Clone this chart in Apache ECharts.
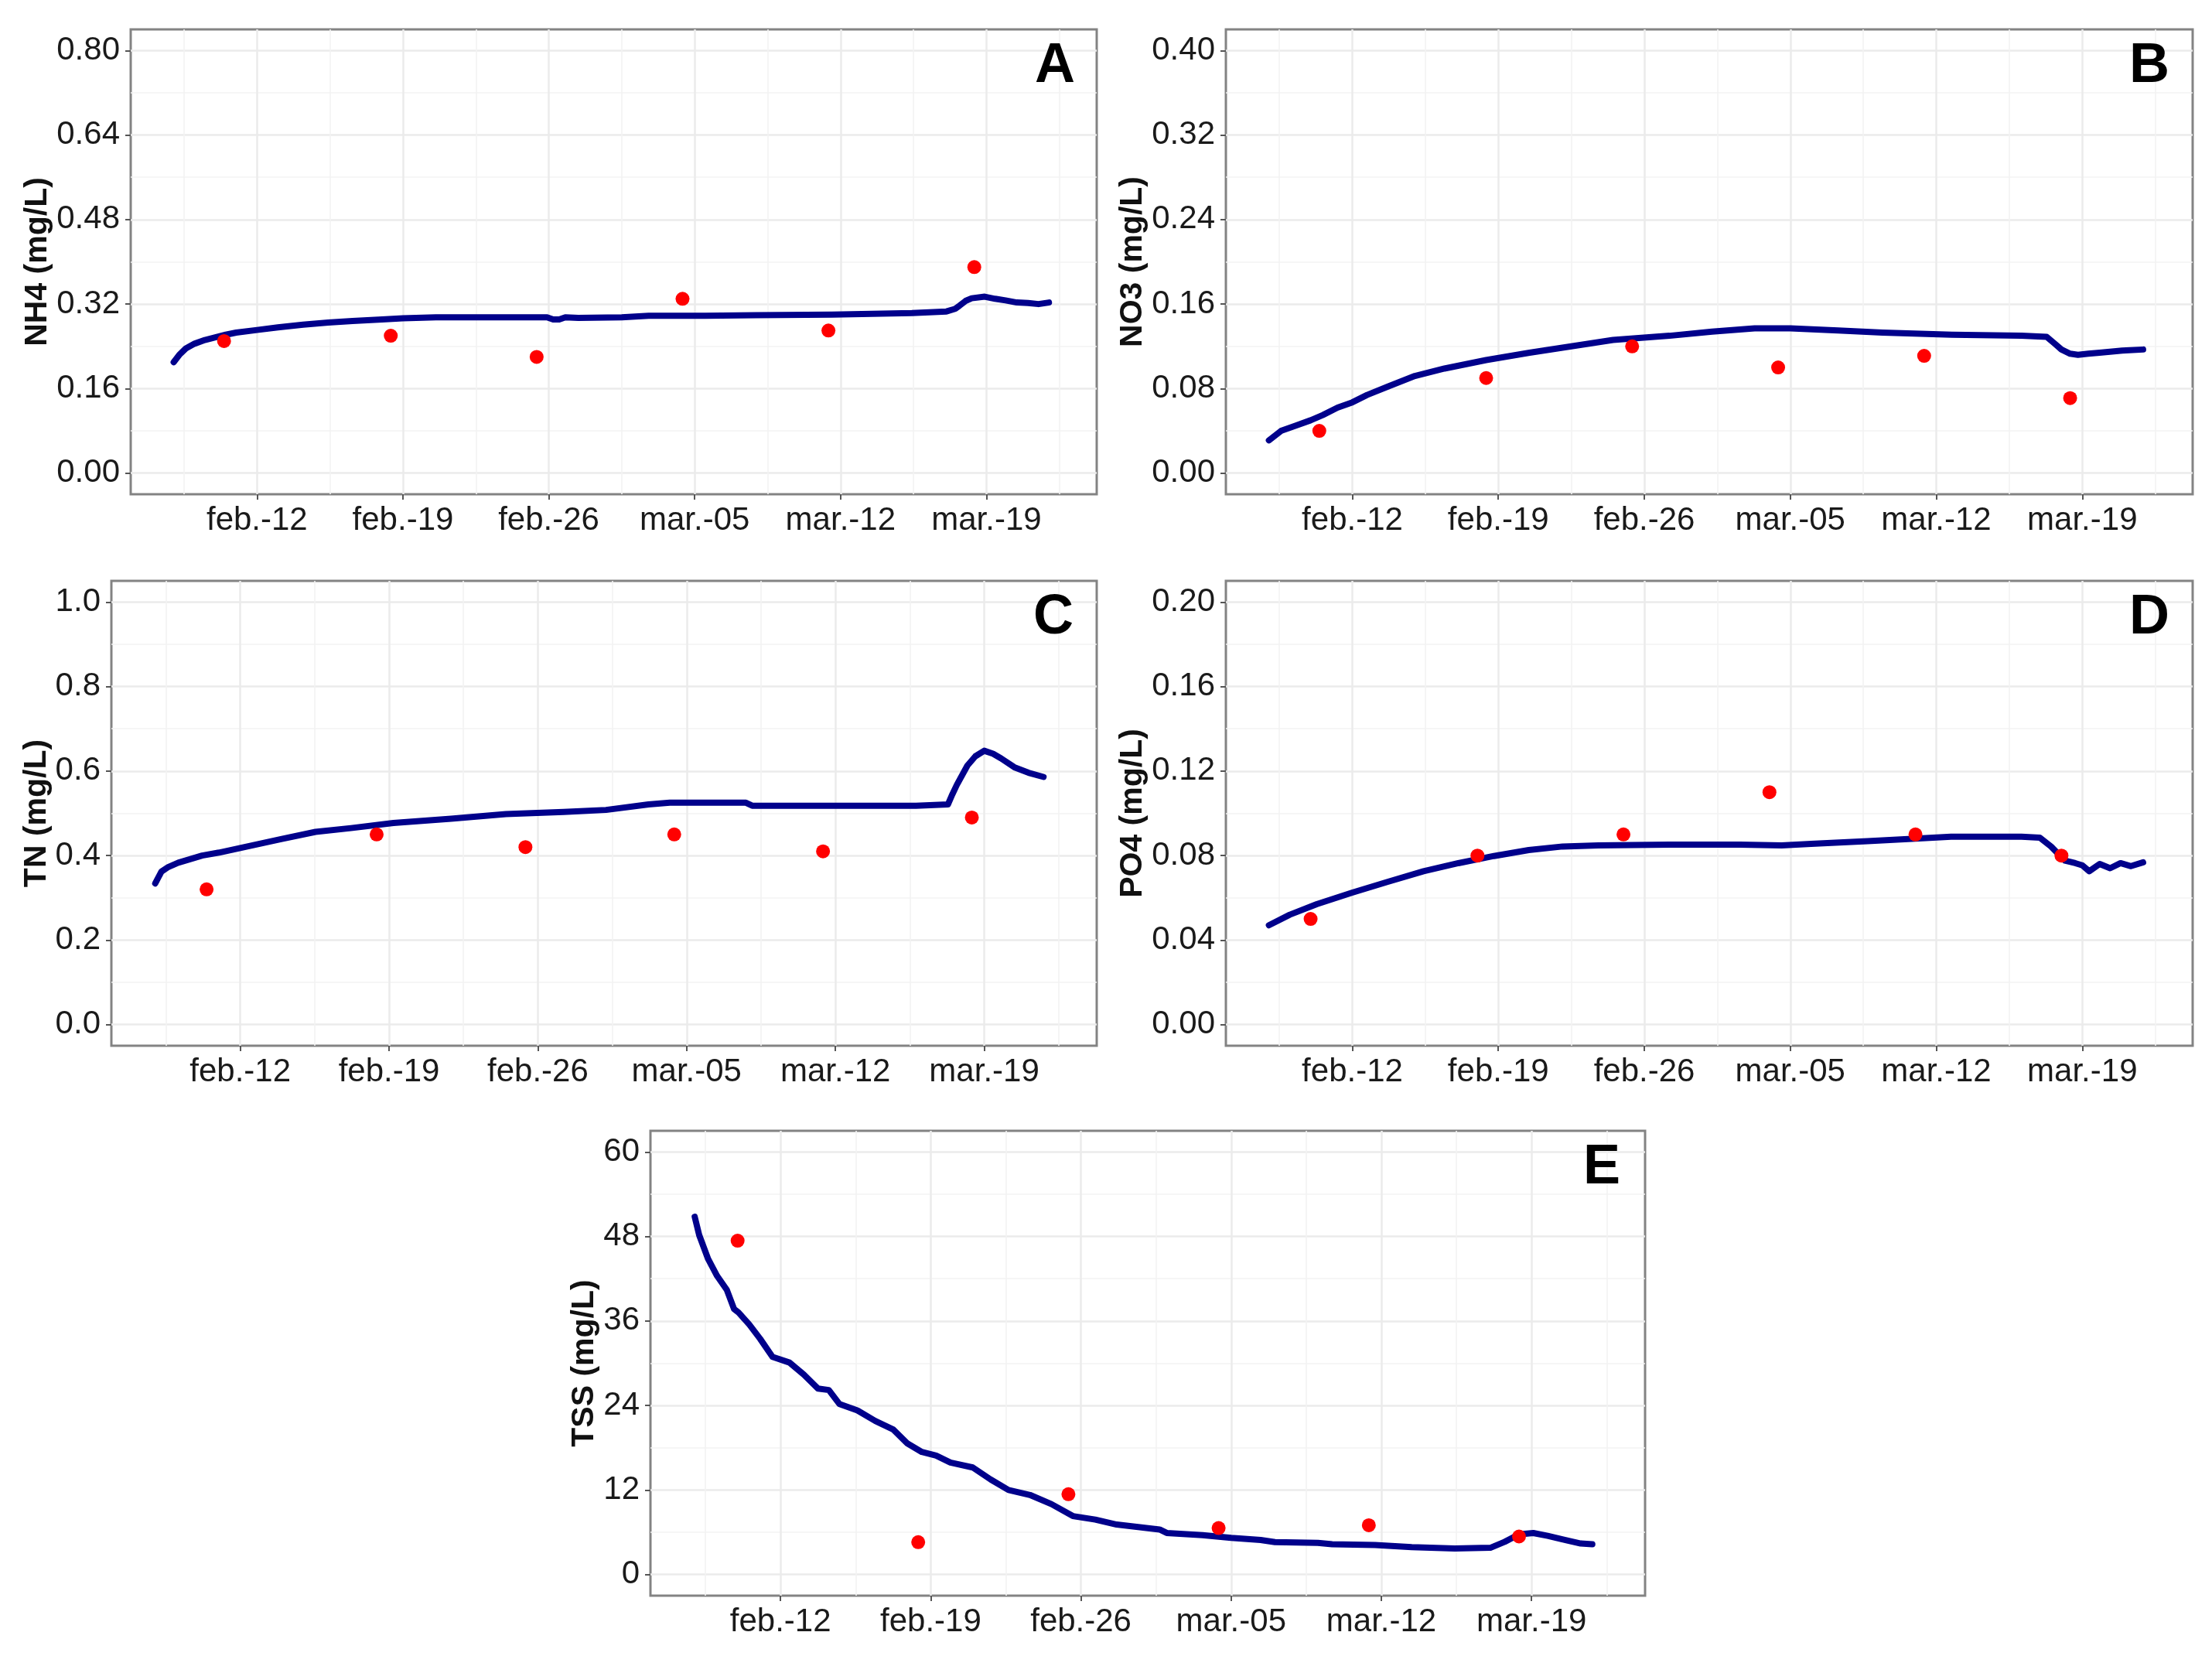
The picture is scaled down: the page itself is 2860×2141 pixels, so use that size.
<!DOCTYPE html>
<html><head><meta charset="utf-8">
<script src="https://cdn.jsdelivr.net/npm/echarts@6/dist/echarts.min.js"></script>
<style>html,body{margin:0;padding:0;background:#fff}#c{width:2860px;height:2141px}</style>
</head><body><div id="c"></div>
<script>
// ---------- x axis (dates) ----------
const xTickDates = ['2019-02-12T00:00','2019-02-19T00:00','2019-02-26T00:00','2019-03-05T00:00','2019-03-12T00:00','2019-03-19T00:00'];
const xTickLabels = ['feb.-12','feb.-19','feb.-26','mar.-05','mar.-12','mar.-19'];
const xMinorDates = ['2019-02-08T12:00','2019-02-15T12:00','2019-02-22T12:00','2019-03-01T12:00','2019-03-08T12:00','2019-03-15T12:00','2019-03-22T12:00'];
const xRangeDates = ['2019-02-05T22:30','2019-03-24T07:00'];

// ---------- sample dates (red points) ----------
const sampleDates = ['2019-02-10T10:00','2019-02-18T10:00','2019-02-25T10:00','2019-03-04T10:00','2019-03-11T10:00','2019-03-18T10:00'];
const sampleDatesPO4 = ['2019-02-10T00:00','2019-02-18T00:00','2019-02-25T00:00','2019-03-04T00:00','2019-03-11T00:00','2019-03-18T00:00'];
const sampleDatesTSS = ['2019-02-10T00:00','2019-02-18T10:00','2019-02-25T10:00','2019-03-04T10:00','2019-03-11T10:00','2019-03-18T10:00'];

// ---------- A: NH4 ----------
const nh4Ticks = [0, 0.16, 0.32, 0.48, 0.64, 0.80];
const nh4Range = [-0.04, 0.84];
const nh4Obs = [0.25, 0.26, 0.22, 0.33, 0.27, 0.39];
const nh4Line = [
['2019-02-08T00:00',0.210],['2019-02-08T07:00',0.225],['2019-02-08T14:00',0.236],['2019-02-09T00:00',0.245],
['2019-02-09T12:00',0.252],['2019-02-10T00:00',0.257],['2019-02-10T12:00',0.262],['2019-02-11T00:00',0.266],
['2019-02-12T00:00',0.271],['2019-02-13T00:00',0.276],['2019-02-14T05:00',0.281],['2019-02-15T10:00',0.285],
['2019-02-16T14:00',0.288],['2019-02-18T00:00',0.291],['2019-02-19T00:00',0.293],['2019-02-20T14:00',0.295],
['2019-02-23T10:00',0.295],['2019-02-25T22:00',0.295],['2019-02-26T05:00',0.291],['2019-02-26T12:00',0.291],
['2019-02-26T19:00',0.295],['2019-02-27T10:00',0.294],['2019-03-01T12:00',0.295],['2019-03-02T19:00',0.298],
['2019-03-05T12:00',0.298],['2019-03-07T22:00',0.299],['2019-03-11T14:00',0.300],['2019-03-15T10:00',0.303],
['2019-03-17T02:00',0.306],['2019-03-17T12:00',0.311],['2019-03-17T17:00',0.317],['2019-03-18T00:00',0.326],
['2019-03-18T07:00',0.331],['2019-03-18T22:00',0.334],['2019-03-19T10:00',0.330],['2019-03-19T22:00',0.327],
['2019-03-20T11:00',0.323],['2019-03-21T00:00',0.322],['2019-03-21T12:00',0.320],['2019-03-22T00:00',0.323]
];

// ---------- B: NO3 ----------
const no3Ticks = [0, 0.08, 0.16, 0.24, 0.32, 0.40];
const no3Range = [-0.02, 0.42];
const no3Obs = [0.040, 0.090, 0.120, 0.100, 0.111, 0.071];
const no3Line = [
['2019-02-08T00:00',0.031],['2019-02-08T14:00',0.040],['2019-02-09T07:00',0.045],['2019-02-10T00:00',0.050],
['2019-02-10T14:00',0.055],['2019-02-11T07:00',0.062],['2019-02-12T00:00',0.067],['2019-02-12T17:00',0.074],
['2019-02-13T17:00',0.082],['2019-02-15T00:00',0.092],['2019-02-16T10:00',0.099],['2019-02-18T10:00',0.107],
['2019-02-20T12:00',0.114],['2019-02-22T12:00',0.120],['2019-02-24T12:00',0.126],['2019-02-27T05:00',0.130],
['2019-03-01T06:00',0.134],['2019-03-03T07:00',0.137],['2019-03-05T00:00',0.137],['2019-03-07T07:00',0.135],
['2019-03-09T10:00',0.133],['2019-03-12T18:00',0.131],['2019-03-16T02:00',0.130],['2019-03-17T07:00',0.129],
['2019-03-17T17:00',0.122],['2019-03-18T00:00',0.117],['2019-03-18T10:00',0.113],['2019-03-18T19:00',0.112],
['2019-03-19T07:00',0.113],['2019-03-19T20:00',0.114],['2019-03-20T22:00',0.116],['2019-03-21T22:00',0.117]
];

// ---------- C: TN ----------
const tnTicks = [0, 0.2, 0.4, 0.6, 0.8, 1.0];
const tnRange = [-0.05, 1.05];
const tnObs = [0.32, 0.45, 0.42, 0.45, 0.41, 0.49];
const tnLine = [
['2019-02-08T00:00',0.334],['2019-02-08T07:00',0.362],['2019-02-08T14:00',0.372],['2019-02-09T02:00',0.383],
['2019-02-10T05:00',0.400],['2019-02-11T00:00',0.407],['2019-02-12T00:00',0.418],['2019-02-13T22:00',0.439],
['2019-02-15T13:00',0.456],['2019-02-17T05:00',0.465],['2019-02-19T05:00',0.477],['2019-02-21T22:00',0.487],
['2019-02-24T12:00',0.498],['2019-02-27T05:00',0.503],['2019-03-01T05:00',0.508],['2019-03-03T05:00',0.521],
['2019-03-04T05:00',0.525],['2019-03-07T19:00',0.525],['2019-03-08T02:00',0.518],['2019-03-12T12:00',0.518],
['2019-03-15T19:00',0.518],['2019-03-17T07:00',0.521],['2019-03-17T12:00',0.545],['2019-03-17T17:00',0.567],
['2019-03-18T05:00',0.613],['2019-03-18T14:00',0.635],['2019-03-19T00:00',0.648],['2019-03-19T10:00',0.641],
['2019-03-19T19:00',0.630],['2019-03-20T10:00',0.609],['2019-03-21T02:00',0.596],['2019-03-21T19:00',0.586]
];

// ---------- D: PO4 ----------
const po4Ticks = [0, 0.04, 0.08, 0.12, 0.16, 0.20];
const po4Range = [-0.01, 0.21];
const po4Obs = [0.050, 0.080, 0.090, 0.110, 0.090, 0.080];
const po4Line = [
['2019-02-08T00:00',0.0470],['2019-02-09T00:00',0.0520],['2019-02-10T07:00',0.0570],['2019-02-12T00:00',0.0625],
['2019-02-13T17:00',0.0676],['2019-02-15T10:00',0.0726],['2019-02-17T02:00',0.0764],['2019-02-18T19:00',0.0798],
['2019-02-20T11:00',0.0826],['2019-02-22T02:00',0.0843],['2019-02-23T19:00',0.0848],['2019-02-27T05:00',0.0852],
['2019-03-02T14:00',0.0852],['2019-03-04T14:00',0.0848],['2019-03-06T00:00',0.0855],['2019-03-08T17:00',0.0868],
['2019-03-11T00:00',0.0880],['2019-03-12T17:00',0.0889],['2019-03-16T02:00',0.0889],['2019-03-16T23:00',0.0885],
['2019-03-17T12:00',0.0843],['2019-03-18T04:00',0.0776],['2019-03-18T16:00',0.0764],['2019-03-19T00:00',0.0754],
['2019-03-19T08:00',0.0726],['2019-03-19T20:00',0.0760],['2019-03-20T08:00',0.0740],['2019-03-20T20:00',0.0764],
['2019-03-21T08:00',0.0750],['2019-03-21T22:00',0.0768]
];

// ---------- E: TSS ----------
const tssTicks = [0, 12, 24, 36, 48, 60];
const tssRange = [-3, 63];
const tssObs = [47.4, 4.6, 11.4, 6.6, 7.0, 5.4];
const tssLine = [
['2019-02-08T00:00',50.8],['2019-02-08T05:00',48.2],['2019-02-08T15:00',44.8],['2019-02-09T01:00',42.4],
['2019-02-09T12:00',40.4],['2019-02-09T20:00',37.7],['2019-02-10T01:00',37.2],['2019-02-10T13:00',35.5],
['2019-02-11T01:00',33.5],['2019-02-11T15:00',30.9],['2019-02-12T10:00',30.1],['2019-02-13T02:00',28.4],
['2019-02-13T18:00',26.4],['2019-02-14T06:00',26.2],['2019-02-14T18:00',24.2],['2019-02-15T14:00',23.3],
['2019-02-16T10:00',21.8],['2019-02-17T06:00',20.6],['2019-02-17T22:00',18.6],['2019-02-18T14:00',17.4],
['2019-02-19T06:00',16.9],['2019-02-19T22:00',15.9],['2019-02-20T23:00',15.2],['2019-02-21T19:00',13.5],
['2019-02-22T15:00',12.0],['2019-02-23T15:00',11.3],['2019-02-24T15:00',10.0],['2019-02-25T15:00',8.3],
['2019-02-26T16:00',7.8],['2019-02-27T16:00',7.1],['2019-03-01T16:00',6.4],['2019-03-02T00:00',5.9],
['2019-03-03T16:00',5.6],['2019-03-05T00:00',5.2],['2019-03-06T09:00',4.9],['2019-03-07T01:00',4.6],
['2019-03-09T01:00',4.5],['2019-03-09T17:00',4.3],['2019-03-11T17:00',4.2],['2019-03-13T10:00',3.9],
['2019-03-15T10:00',3.7],['2019-03-17T02:00',3.8],['2019-03-17T18:00',4.65],['2019-03-18T10:00',5.7],
['2019-03-19T02:00',5.9],['2019-03-19T18:00',5.5],['2019-03-20T14:00',4.9],['2019-03-21T07:00',4.4],
['2019-03-21T20:00',4.3]
];

// ---------- helpers ----------
function toDay(s){
  const [d,t] = s.split('T');
  const [Y,M,D] = d.split('-').map(Number);
  const [h,m] = (t || '00:00').split(':').map(Number);
  return (Date.UTC(Y, M-1, D, h, m) - Date.UTC(2019, 1, 12)) / 86400000;
}
const xTicks = xTickDates.map(toDay);
const xMinor = xMinorDates.map(toDay);
const xMin = toDay(xRangeDates[0]), xMax = toDay(xRangeDates[1]);
function mids(a){ const r=[]; for(let i=0;i<a.length-1;i++) r.push((a[i]+a[i+1])/2); return r; }

const FONT = 'Liberation Sans, Arial, sans-serif';
const panels = [
  {letter:'A', name:'NH4 (mg/L)', ticks:nh4Ticks, range:nh4Range, line:nh4Line, obs:nh4Obs, dates:sampleDates, dec:2,
   layout:{left:169, top:38, width:1249, height:601, nameGap:96, lRight:1470, lTop:50}},
  {letter:'B', name:'NO3 (mg/L)', ticks:no3Ticks, range:no3Range, line:no3Line, obs:no3Obs, dates:sampleDates, dec:2,
   layout:{left:1585, top:38, width:1250, height:601, nameGap:94, lRight:55, lTop:50}},
  {letter:'C', name:'TN (mg/L)', ticks:tnTicks, range:tnRange, line:tnLine, obs:tnObs, dates:sampleDates, dec:1,
   layout:{left:144, top:751, width:1274, height:601, nameGap:74, lRight:1472, lTop:763}},
  {letter:'D', name:'PO4 (mg/L)', ticks:po4Ticks, range:po4Range, line:po4Line, obs:po4Obs, dates:sampleDatesPO4, dec:2,
   layout:{left:1585, top:751, width:1250, height:601, nameGap:95, lRight:55, lTop:763}},
  {letter:'E', name:'TSS (mg/L)', ticks:tssTicks, range:tssRange, line:tssLine, obs:tssObs, dates:sampleDatesTSS, dec:0,
   layout:{left:841, top:1462, width:1286, height:601, nameGap:61, lRight:765, lTop:1474}}
];

const grid = [], xAxis = [], yAxis = [], series = [], title = [];
panels.forEach((p, i) => {
  const L = p.layout;
  grid.push({left:L.left, top:L.top, width:L.width, height:L.height, show:true,
    borderColor:'#838383', borderWidth:3, backgroundColor:'#fff', containLabel:false, outerBoundsMode:'none'});
  // primary x
  xAxis.push({type:'value', gridIndex:i, min:xMin, max:xMax, position:'bottom',
    axisLine:{show:false, onZero:false},
    axisTick:{show:true, length:7, lineStyle:{color:'#555', width:2}, customValues:xTicks},
    axisLabel:{show:true, customValues:xTicks, margin:13, fontSize:42, color:'#1a1a1a', fontFamily:FONT,
      formatter: v => { const k = xTicks.findIndex(t => Math.abs(t - v) < 1e-6); return k >= 0 ? xTickLabels[k] : ''; }},
    splitLine:{show:true, lineStyle:{color:'#ebebeb', width:2.5}}});
  // minor x
  xAxis.push({type:'value', gridIndex:i, min:xMin, max:xMax, position:'top',
    axisLine:{show:false, onZero:false}, axisTick:{show:false, customValues:xMinor}, axisLabel:{show:false, customValues:xMinor},
    splitLine:{show:true, lineStyle:{color:'#f3f3f3', width:1.6}}});
  // primary y
  yAxis.push({type:'value', gridIndex:i, min:p.range[0], max:p.range[1], position:'left',
    name:p.name, nameLocation:'middle', nameGap:L.nameGap,
    nameTextStyle:{fontSize:41, fontWeight:'bold', color:'#111', fontFamily:FONT},
    axisLine:{show:false, onZero:false},
    axisTick:{show:true, length:7, lineStyle:{color:'#555', width:2}, customValues:p.ticks},
    axisLabel:{show:true, customValues:p.ticks, margin:14, fontSize:42, color:'#1a1a1a', fontFamily:FONT,
      formatter: v => Number(v).toFixed(p.dec)},
    splitLine:{show:true, lineStyle:{color:'#ebebeb', width:2.5}}});
  // minor y
  const ym = mids(p.ticks);
  yAxis.push({type:'value', gridIndex:i, min:p.range[0], max:p.range[1], position:'right',
    axisLine:{show:false, onZero:false}, axisTick:{show:false, customValues:ym}, axisLabel:{show:false, customValues:ym},
    splitLine:{show:true, lineStyle:{color:'#f3f3f3', width:1.6}}});

  series.push({type:'line', xAxisIndex:2*i, yAxisIndex:2*i, showSymbol:false, symbol:'none', silent:true,
    data:p.line.map(d => [toDay(d[0]), d[1]]),
    lineStyle:{color:'#00008B', width:8, cap:'round', join:'round'}, z:3, animation:false});
  series.push({type:'scatter', xAxisIndex:2*i, yAxisIndex:2*i, symbol:'circle', symbolSize:18, silent:true,
    data:p.dates.map((d, k) => [toDay(d), p.obs[k]]),
    itemStyle:{color:'#FF0000', opacity:1}, z:4, animation:false});

  title.push({text:p.letter, right:L.lRight, top:L.lTop, padding:0,
    textStyle:{fontSize:72, fontWeight:'bold', color:'#000', fontFamily:FONT}});
});

const chart = echarts.init(document.getElementById('c'), null, {renderer:'canvas', width:2860, height:2141});
chart.setOption({backgroundColor:'#ffffff', animation:false, title, grid, xAxis, yAxis, series, tooltip:{show:false}});
</script>
</body></html>
